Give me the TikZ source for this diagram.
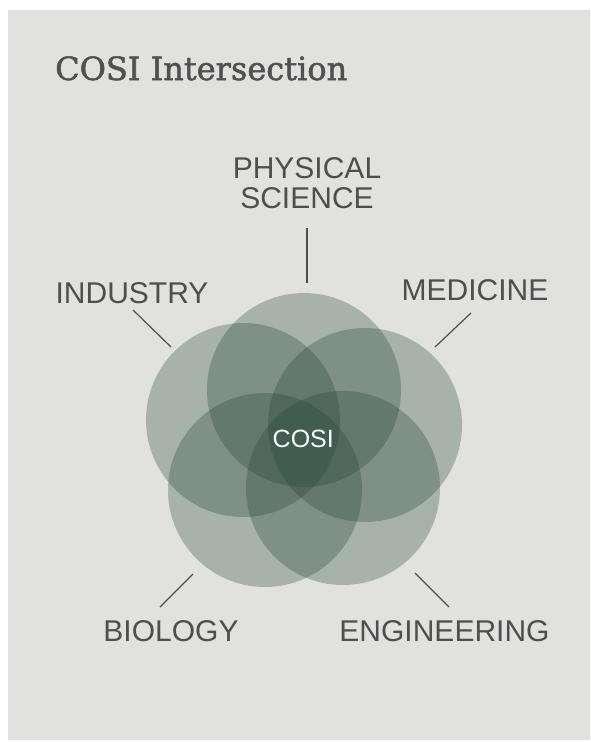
\documentclass[tikz,border=0pt]{standalone}
\usepackage{fontspec}
\setmainfont{Liberation Sans}
\newfontfamily\slabfont[FakeBold=1.6]{DejaVu Serif}
\definecolor{panel}{HTML}{E1E2E0}
\definecolor{cosi}{RGB}{35,68,52}
\definecolor{labelgray}{HTML}{4E4E4E}
\definecolor{titlegray}{HTML}{505050}
\begin{document}
\begin{tikzpicture}[x=1pt,y=-1pt,
  petal/.style={circle, fill=cosi, fill opacity=0.3, minimum size=194pt, inner sep=0pt, draw=none},
  lbl/.style={font=\fontsize{30}{30}\selectfont, text=labelgray, inner sep=0pt, anchor=base},
  leader/.style={draw=labelgray, line width=1.2pt}]
\useasboundingbox (0,0) rectangle (590,742);
\fill[white] (0,0) rectangle (590,742);
\fill[panel] (8,10) rectangle (590,740);
% title
\node[anchor=base west, inner sep=0pt, text=titlegray, font=\slabfont\fontsize{32}{32}\selectfont] (title) at (55,80) {COSI Intersection};
% circles
\node[petal] (ctop) at (304,390) {};
\node[petal] (cleft) at (243,420) {};
\node[petal] (cright) at (365,425) {};
\node[petal] (cbl) at (265,490) {};
\node[petal] (cbr) at (343,488) {};
% centre label
\node[anchor=base, inner sep=0pt, text=white, font=\fontsize{25}{25}\selectfont] (cosi) at (303.3,447.3) {COSI};
% labels
\node[lbl] (phys1) at (307,178) {PHYSICAL};
\node[lbl] (phys2) at (307,208) {SCIENCE};
\node[lbl] (ind) at (132,303) {INDUSTRY};
\node[lbl] (med) at (475,300) {MEDICINE};
\node[lbl] (bio) at (171,641) {BIOLOGY};
\node[lbl] (eng) at (444.5,641) {ENGINEERING};
% leader end points
\coordinate (p1) at (307,228); \coordinate (p2) at (307,283);
\coordinate (i1) at (133,310); \coordinate (i2) at (171,347);
\coordinate (m1) at (471,313); \coordinate (m2) at (435,347);
\coordinate (b1) at (193,574); \coordinate (b2) at (160,607);
\coordinate (e1) at (415,573); \coordinate (e2) at (449,607);
\draw[leader] (p1) -- (p2);
\draw[leader] (i1) -- (i2);
\draw[leader] (m1) -- (m2);
\draw[leader] (b1) -- (b2);
\draw[leader] (e1) -- (e2);
\end{tikzpicture}
\end{document}
